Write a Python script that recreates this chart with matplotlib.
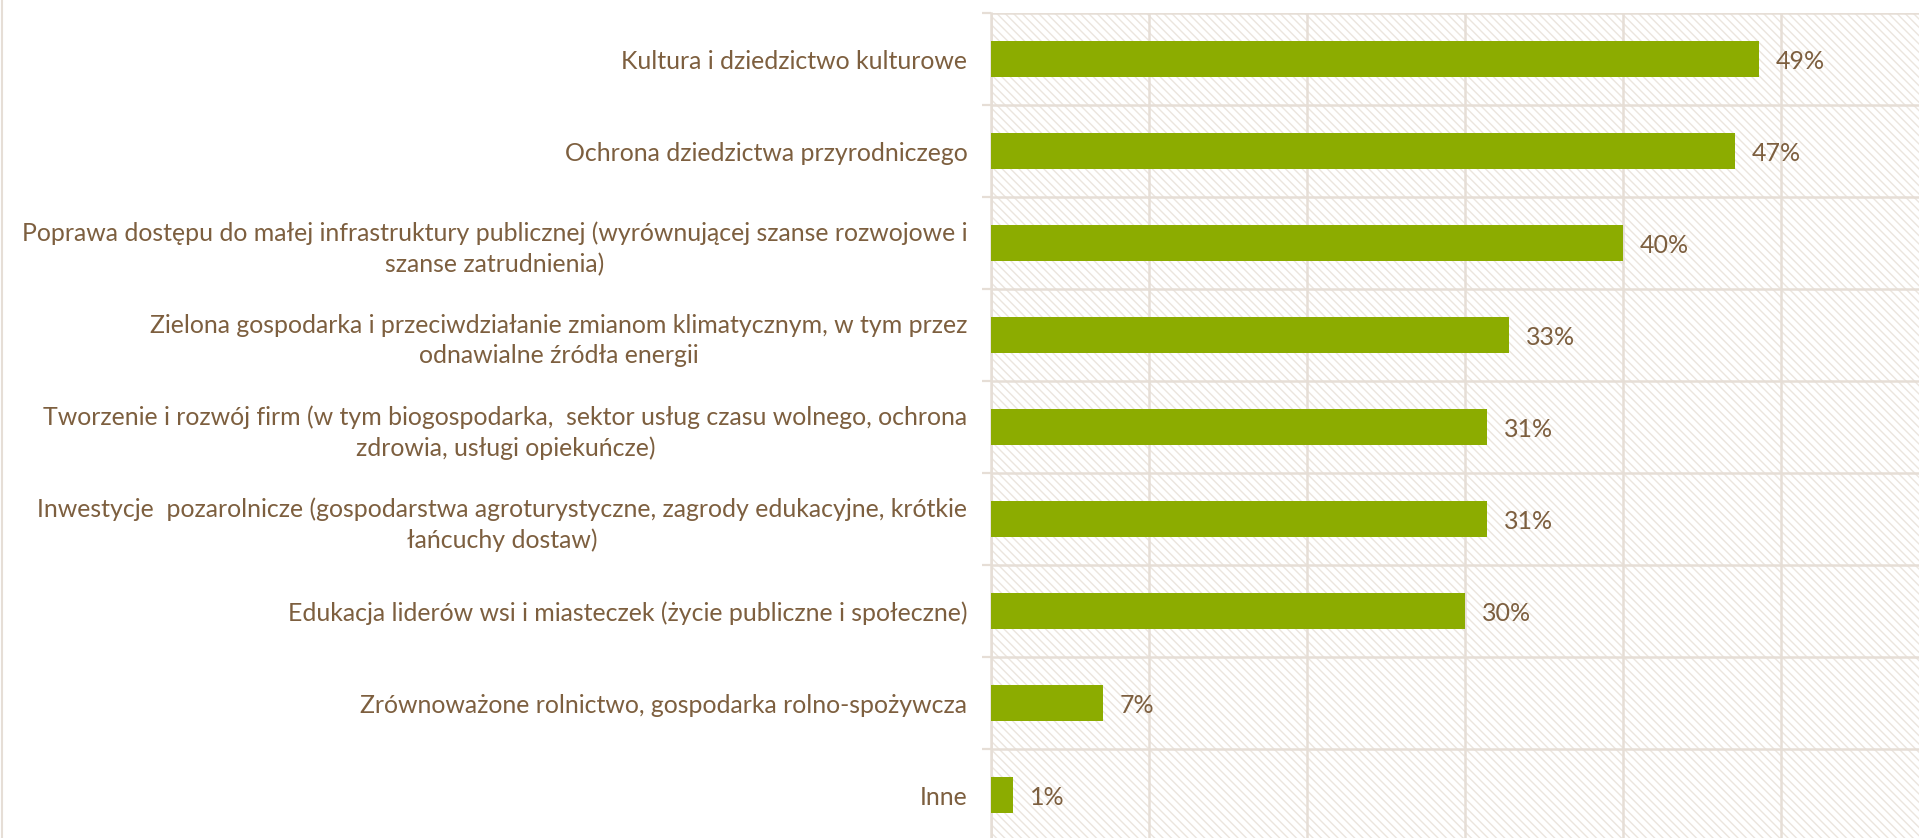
import matplotlib.pyplot as plt
import numpy as np
from matplotlib.lines import Line2D

categories = [
    'Kultura i dziedzictwo kulturowe',
    'Ochrona dziedzictwa przyrodniczego',
    'Poprawa dostępu do małej infrastruktury publicznej (wyrównującej szanse rozwojowe i\nszanse zatrudnienia)',
    'Zielona gospodarka i przeciwdziałanie zmianom klimatycznym, w tym przez\nodnawialne źródła energii',
    'Tworzenie i rozwój firm (w tym biogospodarka,  sektor usług czasu wolnego, ochrona\nzdrowia, usługi opiekuńcze)',
    'Inwestycje  pozarolnicze (gospodarstwa agroturystyczne, zagrody edukacyjne, krótkie\nłańcuchy dostaw)',
    'Edukacja liderów wsi i miasteczek (życie publiczne i społeczne)',
    'Zrównoważone rolnictwo, gospodarka rolno-spożywcza',
    'Inne',
]
values = [48.6, 47.1, 40.0, 32.8, 31.4, 31.4, 30.0, 7.1, 1.4]
value_labels = ['49%', '47%', '40%', '33%', '31%', '31%', '30%', '7%', '1%']

text_color = '#7d5f3f'
grid_color = '#e6ded6'
bar_color = '#8cac00'

plt.rcParams['font.family'] = ['Lato', 'DejaVu Sans']
plt.rcParams['hatch.linewidth'] = 1.0

fig = plt.figure(figsize=(19.19, 8.38), dpi=100)
ax = fig.add_axes([0.5164, -0.0036, 0.494, 0.988])

# hatched background
ax.patch.set_facecolor('white')
ax.patch.set_edgecolor('#ebe5de')
ax.patch.set_linewidth(0)
ax.patch.set_hatch('\\\\\\\\')

y = np.arange(len(categories))
ax.barh(y, values, height=0.4, color=bar_color, zorder=3)

for yi, v, lab in zip(y, values, value_labels):
    ax.text(v + 1.05, yi + 0.03, lab, va='center', ha='left',
            fontsize=18, color=text_color, zorder=4)

ax.set_xlim(0, 60)
ax.set_ylim(len(categories) - 0.5, -0.5)

ax.set_xticks(np.arange(0, 61, 10))
ax.set_xticklabels([])
ax.tick_params(axis='x', length=0)

ax.set_yticks(y)
ax.set_yticklabels(categories, fontsize=17.9, color=text_color,
                   multialignment='center', linespacing=1.38)
ax.tick_params(axis='y', which='major', length=0, pad=17)
ax.set_yticks(np.arange(-0.5, len(categories), 1), minor=True)
ax.tick_params(axis='y', which='minor', length=6.5, width=1.6, color=grid_color)

ax.grid(axis='x', which='major', color=grid_color, linewidth=1.8, zorder=1)
ax.grid(axis='y', which='minor', color=grid_color, linewidth=1.8, zorder=1)
ax.set_axisbelow(True)

for s in ['top', 'right', 'bottom']:
    ax.spines[s].set_visible(False)
ax.spines['left'].set_color(grid_color)
ax.spines['left'].set_linewidth(1.8)

# thin border on the left edge of the picture
fig.add_artist(Line2D([0.0008, 0.0008], [0, 1], color=grid_color, linewidth=1.5))

fig.savefig('out.png', dpi=100)
